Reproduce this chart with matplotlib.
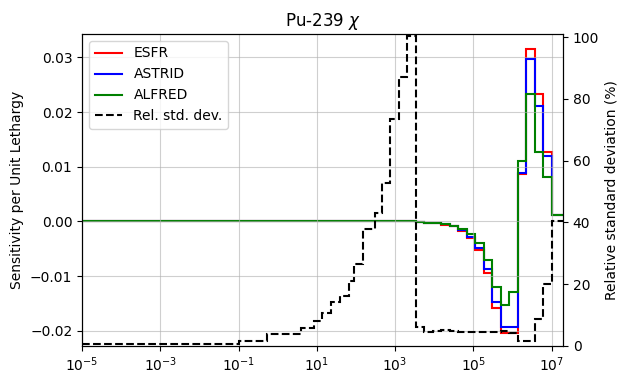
import matplotlib

matplotlib.use("Agg")
import matplotlib.pyplot as plt
import numpy as np

# ECCO-33 group boundaries (eV), ascending
edges = [1e-5, 0.1, 0.54, 4.0, 8.315, 13.71, 22.60, 40.17, 67.90, 91.66, 148.6,
         304.3, 454.0, 748.5, 1234.0, 2035.0, 3355.0, 5531.0, 9119.0, 15030.0,
         24790.0, 40870.0, 67380.0, 111100.0, 183200.0, 302000.0, 497900.0,
         820800.0, 1353000.0, 2231000.0, 3679000.0, 6065000.0, 1.0e7, 1.964e7]

esfr = [0.0] * 16 + [-0.00005, -0.0002, -0.0003, -0.0006, -0.0009, -0.0018, -0.0031,
                     -0.0052, -0.0094, -0.0159, -0.0204, -0.0204, 0.0086, 0.0316,
                     0.0234, 0.0127, 0.0011]
astrid = [0.0] * 16 + [-0.00005, -0.0002, -0.0003, -0.0005, -0.0009, -0.0016, -0.0028,
                       -0.0048, -0.0087, -0.0147, -0.0193, -0.0193, 0.0089, 0.0297,
                       0.0211, 0.0119, 0.0011]
alfred = [0.0] * 16 + [-0.00005, -0.0002, -0.0003, -0.0005, -0.0008, -0.0013, -0.0023,
                       -0.0040, -0.0071, -0.0120, -0.0153, -0.0130, 0.0111, 0.0234,
                       0.0127, 0.0081, 0.0012]
rel_std = [0.7, 1.5, 3.9, 5.7, 8.2, 10.7, 14.1, 16.1, 21.0, 26.5, 38.0, 43.2, 52.9,
           73.5, 87.1, 100.3, 6.0, 4.6, 5.0, 5.2, 5.0, 4.6, 4.5, 4.5, 4.6, 4.6, 5.0,
           4.3, 1.7, 1.7, 8.7, 20.0, 40.5]

fig = plt.figure(figsize=(6.19, 3.71), dpi=100)
ax = fig.add_axes([0.1325, 0.0674, 0.777, 0.841])
ax2 = ax.twinx()

l1 = ax.stairs(esfr, edges, color="r", linewidth=1.5, label="ESFR", baseline=None)
l2 = ax.stairs(astrid, edges, color="b", linewidth=1.5, label="ASTRID", baseline=None)
l3 = ax.stairs(alfred, edges, color="g", linewidth=1.5, label="ALFRED", baseline=None)
l4 = ax2.stairs(rel_std, edges, color="k", linestyle="--", linewidth=1.5,
                label="Rel. std. dev.", baseline=None)

ax.set_xscale("log")
ax.set_xlim(1e-5, 1.964e7)
ax.set_ylim(-0.0228, 0.0343)
ax2.set_ylim(0, 101)
ax.set_xticks([10.0 ** p for p in range(-5, 8, 2)])
ax.xaxis.set_minor_locator(matplotlib.ticker.NullLocator())
ax.grid(True, color="#b0b0b0", alpha=0.6)

ax.set_title("Pu-239 $\\chi$")
ax.set_ylabel("Sensitivity per Unit Lethargy")
ax2.set_ylabel("Relative standard deviation (%)")

handles = [plt.Line2D([], [], color="r", lw=1.5), plt.Line2D([], [], color="b", lw=1.5),
           plt.Line2D([], [], color="g", lw=1.5),
           plt.Line2D([], [], color="k", lw=1.5, linestyle="--")]
ax2.legend(handles, ["ESFR", "ASTRID", "ALFRED", "Rel. std. dev."], loc="upper left")

fig.savefig("out.png", dpi=100)
